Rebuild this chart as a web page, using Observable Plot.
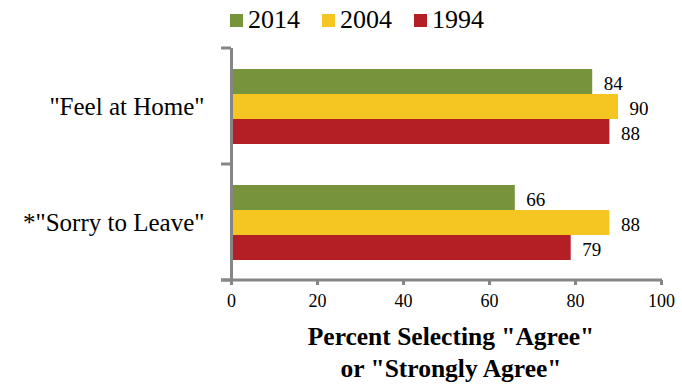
<!DOCTYPE html>
<html>
<head>
<meta charset="utf-8">
<script src="https://cdn.jsdelivr.net/npm/d3@7"></script>
<script src="https://cdn.jsdelivr.net/npm/@observablehq/plot@0.6"></script>
<style>
  body { margin: 0; background: #fff; width: 682px; height: 389px; overflow: hidden; font-family: "Liberation Serif", "Times New Roman", serif; }
  #legend { height: 40px; display: flex; align-items: center; padding-left: 230px; box-sizing: border-box; font-size: 26px; color: #000; }
  #legend .item { display: flex; align-items: center; margin-right: 22px; }
  #legend .sw { width: 13px; height: 13px; margin-right: 5px; }
  #caption { text-align: center; font-weight: bold; font-size: 25.5px; line-height: 32px; padding-top: 1px; padding-left: 220px; width: 462px; color: #000; }
</style>
</head>
<body>
<div id="legend"></div>
<div id="chart"></div>
<div id="caption">Percent Selecting "Agree"<br>or "Strongly Agree"</div>
<script>
const categories = ['"Feel at Home"', '*"Sorry to Leave"'];
const years = ["2014", "2004", "1994"];
const values2014 = [84, 66];
const values2004 = [90, 88];
const values1994 = [88, 79];
const xTicks = [0, 20, 40, 60, 80, 100];
const colors = ["#77933c", "#f5c622", "#b31f24"];

const series = [values2014, values2004, values1994];
const data = categories.flatMap((c, i) => years.map((y, j) => ({category: c, year: y, value: series[j][i]})));

// legend
const legend = d3.select("#legend");
years.forEach((y, j) => {
  const it = legend.append("div").attr("class", "item");
  it.append("div").attr("class", "sw").style("background", colors[j]);
  it.append("span").text(y);
});

const axisGray = "#868686";
const chart = Plot.plot({
  width: 682,
  height: 280,
  marginLeft: 231,
  marginRight: 21,
  marginTop: 7,
  marginBottom: 40,
  style: {fontFamily: '"Liberation Serif", "Times New Roman", serif', fontSize: "18px", color: "#000", background: "#fff", overflow: "visible"},
  x: {domain: [0, 100]},
  y: {domain: years, paddingInner: 0, paddingOuter: 0.764, axis: null},
  fy: {domain: categories, padding: 0},
  color: {domain: years, range: colors},
  marks: [
    Plot.barX(data, {x: "value", y: "year", fy: "category", fill: "year"}),
    Plot.text(data, {x: "value", y: "year", fy: "category", text: d => String(d.value), textAnchor: "start", dx: 11, dy: 2, fontSize: 19}),
    Plot.ruleX([0], {stroke: axisGray, strokeWidth: 3}),
    Plot.axisX(xTicks, {anchor: "bottom", tickSize: 5, tickPadding: 9, stroke: axisGray, strokeWidth: 3, fill: "#000", fontSize: 18, label: null}),
    Plot.axisFy({anchor: "left", tickSize: 0, tickPadding: 27, fontSize: 25, letterSpacing: "0.4px", label: null})
  ]
});
document.getElementById("chart").appendChild(chart);

// Excel-style tick marks at category boundaries and the x axis line
const svg = d3.select(chart);
const fy = chart.scale("fy");
const xs = chart.scale("x");
const x0 = xs.apply(0), x1 = xs.apply(100);
const bounds = [];
categories.forEach((c, i) => {
  const top = fy.apply(c);
  if (i === 0) bounds.push(top);
  bounds.push(top + fy.bandwidth);
});
const g = svg.append("g").attr("stroke", axisGray).attr("stroke-width", 3);
bounds.forEach(b => {
  g.append("line").attr("x1", x0 - 10).attr("x2", x0).attr("y1", b).attr("y2", b);
});
g.append("line").attr("x1", x0 - 10).attr("x2", x1 + 1).attr("y1", bounds[bounds.length - 1]).attr("y2", bounds[bounds.length - 1]);
</script>
</body>
</html>
